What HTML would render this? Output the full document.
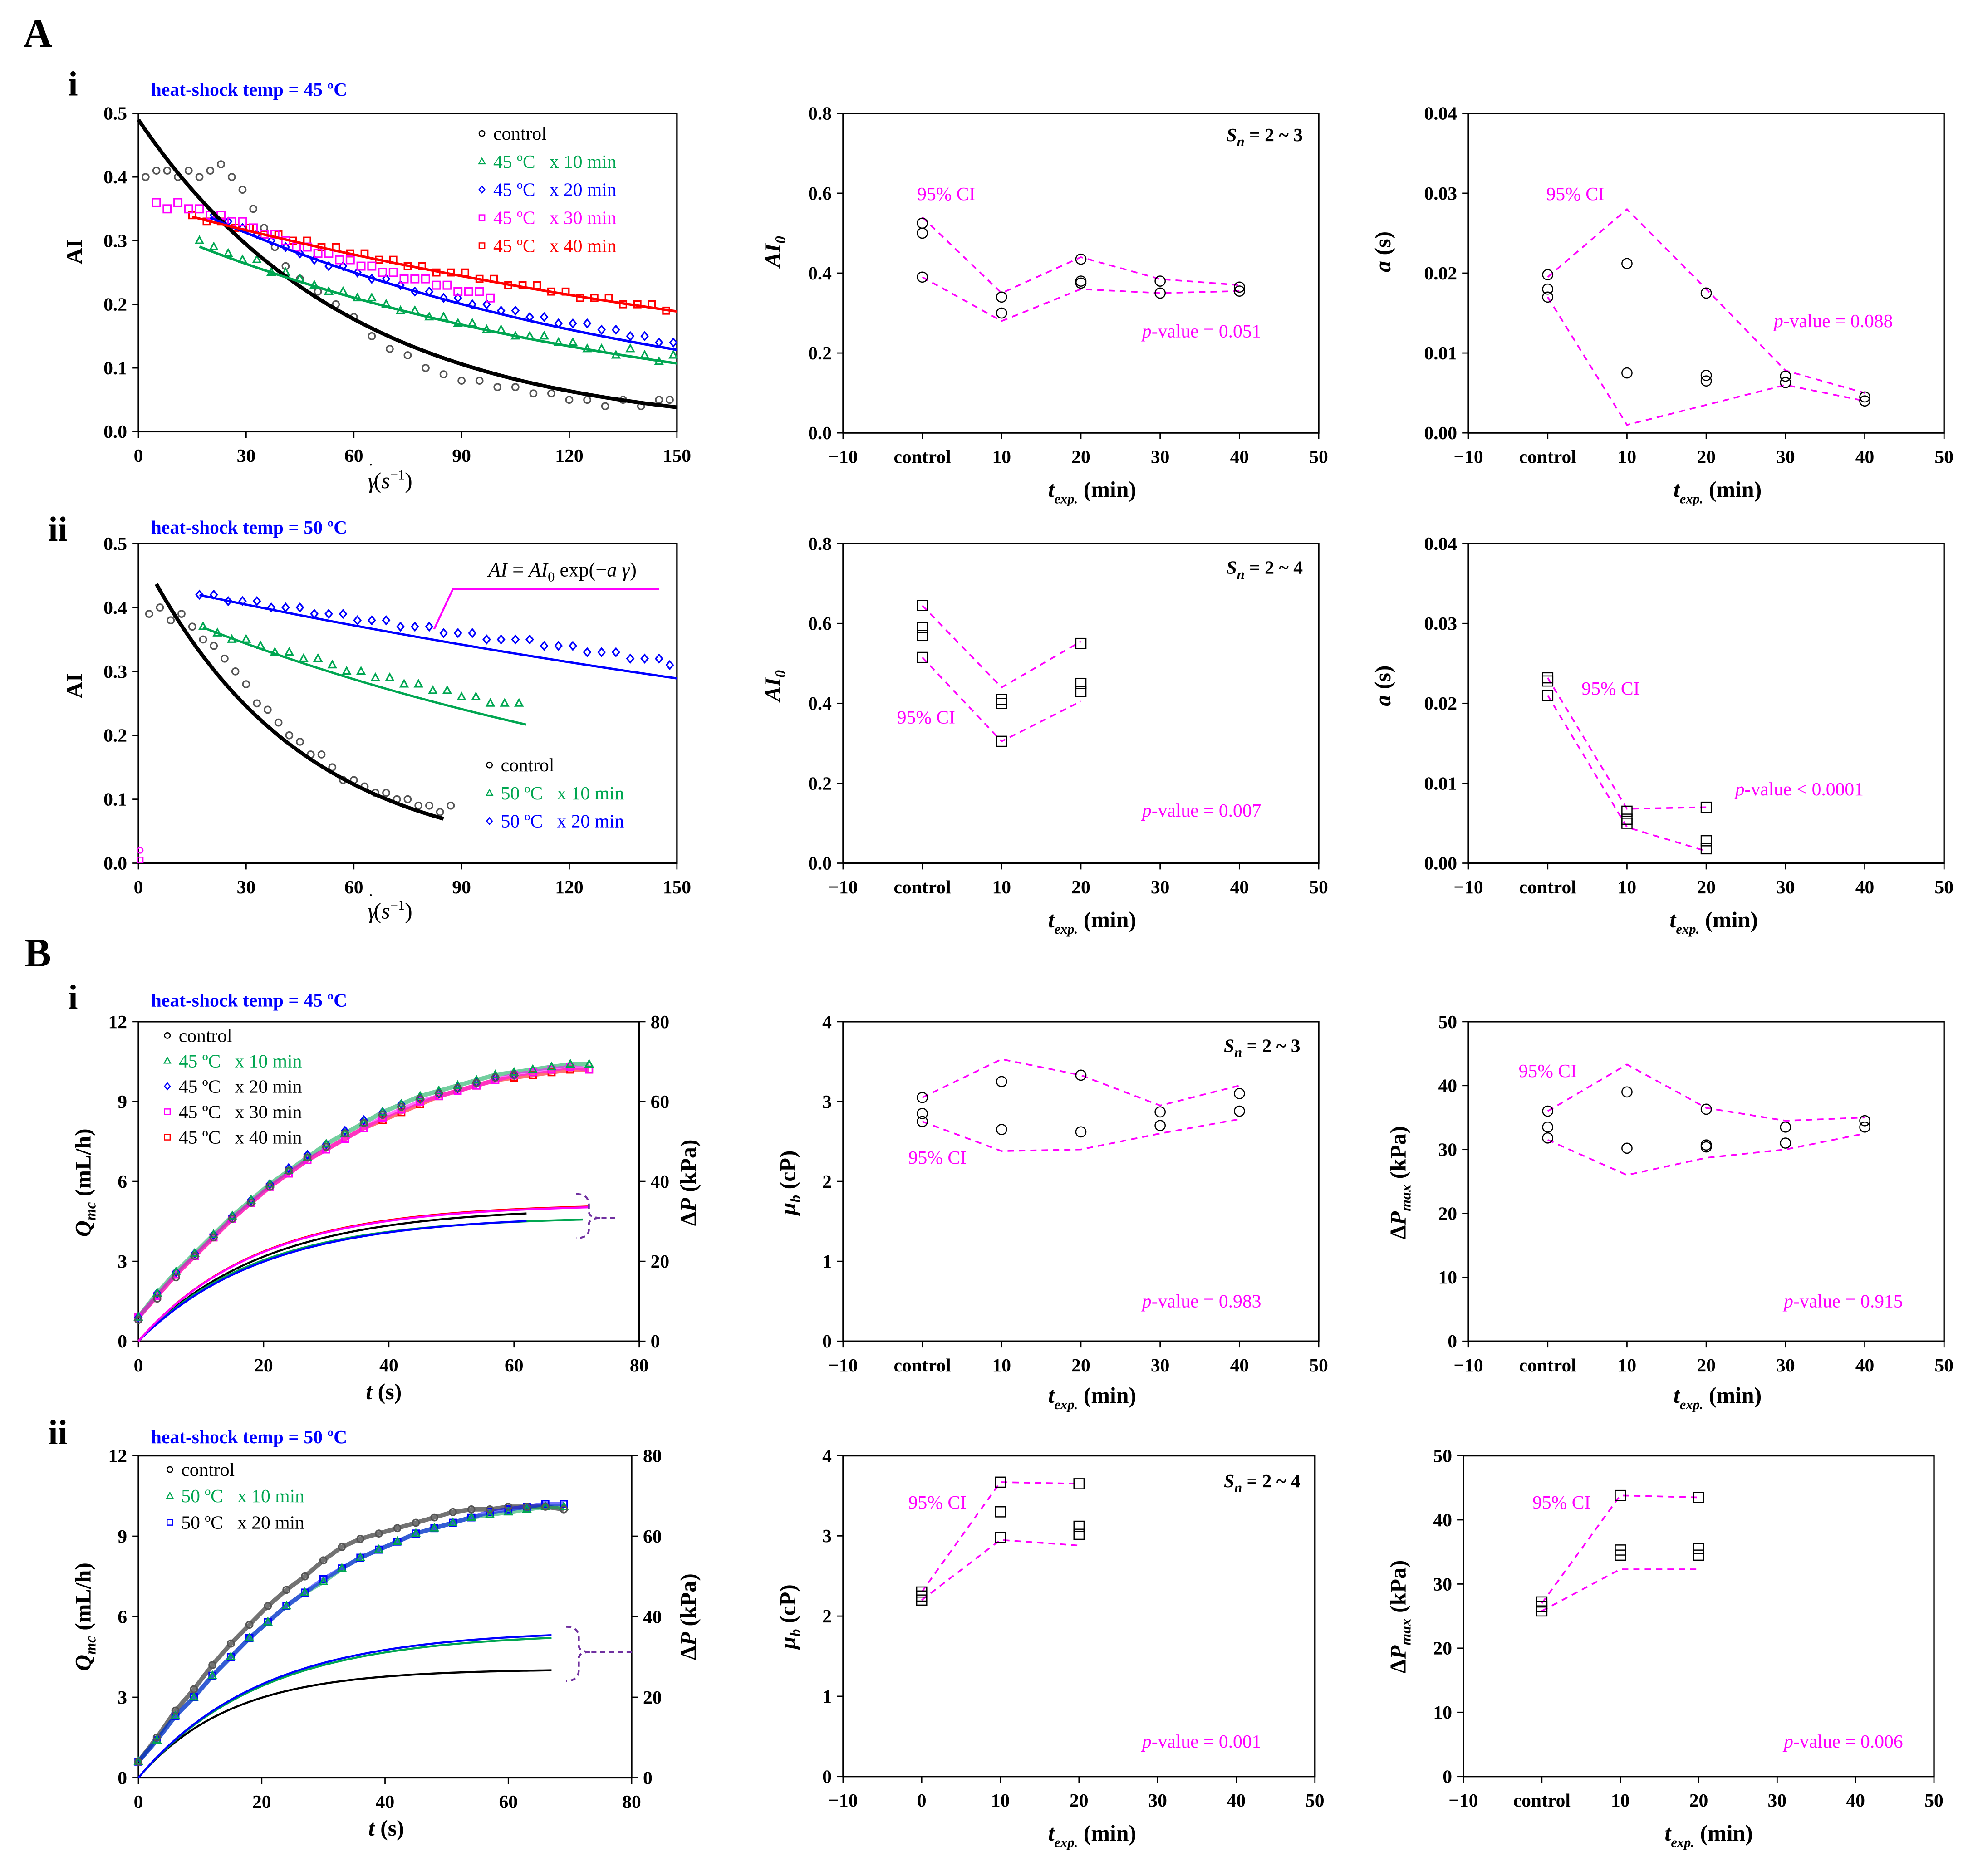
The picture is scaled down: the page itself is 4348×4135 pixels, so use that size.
<!DOCTYPE html>
<html><head><meta charset="utf-8">
<style>
html,body{margin:0;padding:0;background:#fff;}
svg{display:block;}
text{font-family:"Liberation Serif",serif;}
</style></head>
<body>
<svg id="fig" xmlns="http://www.w3.org/2000/svg" width="4348" height="4135" viewBox="0 0 1568 1491"></svg>
<script>
// ---------- DATA ----------
const aiCtrlX=[2,5,8,11,14,17,20,23,26,29,32,35,38,41,45,50,55,60,65,70,75,80,85,90,95,100,105,110,115,120,125,130,135,140,145,148];
const aiCtrlY=[0.40,0.41,0.41,0.40,0.41,0.40,0.41,0.42,0.40,0.38,0.35,0.32,0.29,0.26,0.24,0.22,0.20,0.18,0.15,0.13,0.12,0.10,0.09,0.08,0.08,0.07,0.07,0.06,0.06,0.05,0.05,0.04,0.05,0.04,0.05,0.05];
const ai10X=[17,21,25,29,33,37,41,45,49,53,57,61,65,69,73,77,81,85,89,93,97,101,105,109,113,117,121,125,129,133,137,141,145,149];
const ai10Y=[0.30,0.29,0.28,0.27,0.27,0.25,0.25,0.24,0.23,0.22,0.22,0.21,0.21,0.20,0.19,0.19,0.18,0.18,0.17,0.17,0.16,0.16,0.15,0.15,0.15,0.14,0.14,0.13,0.13,0.12,0.13,0.12,0.11,0.12];
const ai20X=[21,25,29,33,37,41,45,49,53,57,61,65,69,73,77,81,85,89,93,97,101,105,109,113,117,121,125,129,133,137,141,145,149];
const ai20Y=[0.34,0.33,0.32,0.31,0.30,0.29,0.28,0.27,0.26,0.26,0.25,0.24,0.24,0.23,0.22,0.22,0.21,0.21,0.20,0.20,0.19,0.19,0.18,0.18,0.17,0.17,0.17,0.16,0.16,0.15,0.15,0.14,0.14];
const ai30X=[5,8,11,14,17,20,23,26,29,32,35,38,41,44,47,50,53,56,59,62,65,68,71,74,77,80,83,86,89,92,95,98];
const ai30Y=[0.36,0.35,0.36,0.35,0.35,0.34,0.34,0.33,0.33,0.32,0.31,0.31,0.30,0.29,0.29,0.28,0.28,0.27,0.27,0.26,0.26,0.25,0.25,0.24,0.24,0.24,0.23,0.23,0.22,0.22,0.22,0.21];
const ai40X=[15,19,23,27,31,35,39,43,47,51,55,59,63,67,71,75,79,83,87,91,95,99,103,107,111,115,119,123,127,131,135,139,143,147];
const ai40Y=[0.34,0.33,0.33,0.32,0.32,0.31,0.31,0.30,0.30,0.29,0.29,0.28,0.28,0.27,0.27,0.26,0.26,0.25,0.25,0.25,0.24,0.24,0.23,0.23,0.23,0.22,0.22,0.21,0.21,0.21,0.20,0.20,0.20,0.19];
const fitAi=[[0.49,0.017,0,150,'#000'],[0.33,0.0075,17,150,'#00a651'],[0.39,0.0074,20,150,'#0000ff'],[0.36,0.0043,15,150,'#ff0000']];
const aiiCtrlX=[3,6,9,12,15,18,21,24,27,30,33,36,39,42,45,48,51,54,57,60,63,66,69,72,75,78,81,84,87];
const aiiCtrlY=[0.39,0.40,0.38,0.39,0.37,0.35,0.34,0.32,0.30,0.28,0.25,0.24,0.22,0.20,0.19,0.17,0.17,0.15,0.13,0.13,0.12,0.11,0.11,0.10,0.10,0.09,0.09,0.08,0.09];
const aii10X=[18,22,26,30,34,38,42,46,50,54,58,62,66,70,74,78,82,86,90,94,98,102,106];
const aii10Y=[0.37,0.36,0.35,0.35,0.34,0.33,0.33,0.32,0.32,0.31,0.30,0.30,0.29,0.29,0.28,0.28,0.27,0.27,0.26,0.26,0.25,0.25,0.25];
const aii20X=[17,21,25,29,33,37,41,45,49,53,57,61,65,69,73,77,81,85,89,93,97,101,105,109,113,117,121,125,129,133,137,141,145,148];
const aii20Y=[0.42,0.42,0.41,0.41,0.41,0.40,0.40,0.40,0.39,0.39,0.39,0.38,0.38,0.38,0.37,0.37,0.37,0.36,0.36,0.36,0.35,0.35,0.35,0.35,0.34,0.34,0.34,0.33,0.33,0.33,0.32,0.32,0.32,0.31];
const fitAii=[[0.49,0.023,5,85,'#000'],[0.41,0.0059,18,108,'#00a651'],[0.44,0.0028,17,150,'#0000ff']];
const catX=[0,10,20,30,40];
const a1AI0=[[0.39,0.50,0.525],[0.30,0.34],[0.375,0.38,0.435],[0.35,0.38],[0.355,0.365]];
const a1AI0Up=[0.54,0.35,0.44,0.385,0.37], a1AI0Lo=[0.39,0.28,0.36,0.35,0.355];
const a1A=[[0.017,0.018,0.0198],[0.0075,0.0212],[0.0065,0.0072,0.0175],[0.0063,0.0071],[0.004,0.0045]];
const a1AUp=[0.0195,0.028,0.018,0.0078,0.005], a1ALo=[0.017,0.001,0.0035,0.006,0.004];
const a2AI0=[[0.515,0.57,0.59,0.645],[0.305,0.40,0.41],[0.43,0.45,0.55]];
const a2AI0Up=[0.645,0.44,0.555], a2AI0Lo=[0.515,0.305,0.405];
const a2A=[[0.021,0.0228,0.0232],[0.005,0.0055,0.0065],[0.0018,0.0028,0.007]];
const a2AUp=[0.0232,0.0068,0.007], a2ALo=[0.021,0.0045,0.0015];
const b1Mu=[[2.75,2.85,3.05],[2.65,3.25],[2.62,3.33],[2.70,2.87],[2.88,3.10]];
const b1MuUp=[3.05,3.53,3.33,2.95,3.2], b1MuLo=[2.75,2.38,2.4,2.6,2.78];
const b1P=[[31.8,33.5,36],[30.2,39],[30.4,30.7,36.3],[31,33.5],[33.5,34.5]];
const b1PUp=[36,43.3,36.5,34.5,35], b1PLo=[31.5,26,28.7,30,32.5];
const b2Mu=[[2.2,2.25,2.3],[2.98,3.3,3.67],[3.02,3.12,3.65]];
const b2MuUp=[2.3,3.67,3.65], b2MuLo=[2.2,2.95,2.88];
const b2P=[[25.8,26.5,27.2],[34.5,35.3,43.8],[34.5,35.5,43.5]];
const b2PUp=[27,43.8,43.5], b2PLo=[25.8,32.3,32.3];
const bT=[0,3,6,9,12,15,18,21,24,27,30,33,36,39,42,45,48,51,54,57,60,63,66,69,72];
const b1Q10=[0.9,1.8,2.6,3.3,4.0,4.7,5.3,5.9,6.4,6.9,7.4,7.8,8.2,8.6,8.9,9.2,9.4,9.6,9.8,10.0,10.1,10.2,10.3,10.4,10.4];
const b1Q40=[0.9,1.7,2.5,3.2,3.9,4.6,5.2,5.8,6.3,6.8,7.2,7.6,8.0,8.3,8.6,8.9,9.2,9.4,9.6,9.8,9.9,10.0,10.1,10.2,10.2];
const b1Q20=[0.9,1.8,2.6,3.3,4.0,4.7,5.3,5.9,6.5,7.0,7.4,7.9,8.3,8.6,8.9,9.1,9.3,9.5,9.7,9.9,10.0];
const b1QC=[0.8,1.6,2.4,3.2,3.9,4.6,5.2,5.8,6.4,6.9,7.3,7.8,8.2,8.5,8.8,9.1,9.3,9.5,9.7,9.9,10.0];
const b1Qp=[0.9,1.7,2.5,3.2,3.9,4.6,5.2,5.8,6.3,6.8,7.2,7.6,8.0,8.4,8.7,9.0,9.2,9.4,9.6,9.8,10.0,10.1,10.2,10.3,10.2];
const b2QC=[0.6,1.5,2.5,3.3,4.2,5.0,5.7,6.4,7.0,7.5,8.1,8.6,8.9,9.1,9.3,9.5,9.7,9.9,10.0,10.0,10.1,10.1,10.1,10.0];
const b2Q10=[0.6,1.4,2.3,3.0,3.8,4.5,5.2,5.8,6.4,6.9,7.3,7.8,8.2,8.5,8.8,9.1,9.3,9.5,9.7,9.8,9.9,10.0,10.1,10.1];
const b2Q20=[0.6,1.4,2.3,3.0,3.8,4.5,5.2,5.8,6.4,6.9,7.4,7.8,8.2,8.5,8.8,9.1,9.3,9.5,9.7,9.9,10.0,10.1,10.2,10.2];
const b1Pc=[[33.5,20,62,'#000'],[31.2,19,71,'#00a651'],[31.5,20,62,'#0000ff'],[34.5,19,72,'#ff0000'],[34.3,19,72,'#ff00ff']];
const b2Pc=[[27,15,67,'#000'],[36,20,67,'#00a651'],[36.7,20,67,'#0000ff']];

// ---------- HELPERS ----------
const NS='http://www.w3.org/2000/svg';
const svg=document.getElementById('fig');
function mk(tag,attrs,name,parent){
  const e=document.createElementNS(NS,tag);
  for(const k in attrs) e.setAttribute(k,attrs[k]);
  
  
  (parent||svg).appendChild(e); return e;
}
function txt(x,y,s,o,name){
  o=o||{};
  const t=mk('text',{x:x,y:y,'font-size':o.size||15,'font-weight':o.w||'bold','fill':o.fill||'#000','text-anchor':o.anchor||'middle','font-style':o.style||'normal'},name);
  if(o.rot) t.setAttribute('transform','rotate(-90 '+x+' '+y+')');
  t.innerHTML=s; return t;
}
function panel(p,name){
  const sx=v=>p.x0+(v-p.xmin)/(p.xmax-p.xmin)*(p.x1-p.x0);
  const sy=v=>p.y1-(v-p.ymin)/(p.ymax-p.ymin)*(p.y1-p.y0);
  mk('rect',{x:p.x0,y:p.y0,width:p.x1-p.x0,height:p.y1-p.y0,fill:'none',stroke:'#000','stroke-width':1.2},name+'-frame');
  p.xt.forEach((v,i)=>{
    mk('line',{x1:sx(v),x2:sx(v),y1:p.y1,y2:p.y1+5,stroke:'#000'},name+'-x-tick');
    txt(sx(v),p.y1+24,p.xl[i],{},name+'-x-tick-label');
  });
  p.yt.forEach((v,i)=>{
    mk('line',{x1:p.x0-5,x2:p.x0,y1:sy(v),y2:sy(v),stroke:'#000'},name+'-y-tick');
    txt(p.x0-9,sy(v)+5,p.yl[i],{anchor:'end'},name+'-y-tick-label');
  });
  return {sx,sy};
}
function marker(shape,x,y,col,name,r,sw){
  r=r||2.2; sw=sw||0.9;
  if(shape==='c') mk('circle',{cx:x,cy:y,r:r,fill:'none',stroke:col,'stroke-width':sw},name);
  else if(shape==='t') mk('polygon',{points:`${x},${y-r*1.2} ${x-r*1.1},${y+r*0.8} ${x+r*1.1},${y+r*0.8}`,fill:'none',stroke:col,'stroke-width':sw},name);
  else if(shape==='d') mk('polygon',{points:`${x},${y-r*1.2} ${x+r},${y} ${x},${y+r*1.2} ${x-r},${y}`,fill:'none',stroke:col,'stroke-width':sw},name);
  else mk('rect',{x:x-r,y:y-r,width:2*r,height:2*r,fill:'none',stroke:col,'stroke-width':sw},name);
}
function scatter(ax,xs,ys,shape,col,name,r){ xs.forEach((x,i)=>{ if(ys[i]!==undefined) marker(shape,ax.sx(x),ax.sy(ys[i]),col,name,r||2.6,1.2);}); }
function band(ax,xs,ys,col,name){
  let d='';
  ys.forEach((y,i)=>{ d+=(d?'L':'M')+ax.sx(xs[i]).toFixed(2)+','+ax.sy(y).toFixed(2); });
  mk('path',{d:d,fill:'none',stroke:col,'stroke-width':3.5,'stroke-opacity':0.55},name);
}
function expFit(ax,f,name,w){
  let d='';
  for(let x=f[2];x<=f[3]+0.01;x+=1){ d+=(d?'L':'M')+ax.sx(x).toFixed(2)+','+ax.sy(f[0]*Math.exp(-f[1]*x)).toFixed(2); }
  mk('path',{d:d,fill:'none',stroke:f[4],'stroke-width':w||2},name);
}
function pCurve(ax,f,name){
  let d='';
  for(let t=0;t<=f[2]+0.01;t+=0.5){ const P=f[0]*(1-Math.exp(-t/f[1])); d+=(d?'L':'M')+ax.sx(t).toFixed(2)+','+ax.sy(P*12/80).toFixed(2); }
  mk('path',{d:d,fill:'none',stroke:f[3],'stroke-width':1.6},name);
}
function catPanel(ax,pts,up,lo,shape,name){
  const n=pts.length;
  let du='',dl='';
  for(let i=0;i<n;i++){ du+=(i?'L':'M')+ax.sx(catX[i])+','+ax.sy(up[i]); dl+=(i?'L':'M')+ax.sx(catX[i])+','+ax.sy(lo[i]); }
  mk('path',{d:du,fill:'none',stroke:'#ff00ff','stroke-width':1.3,'stroke-dasharray':'5,4'},name+'-ci-upper');
  mk('path',{d:dl,fill:'none',stroke:'#ff00ff','stroke-width':1.3,'stroke-dasharray':'5,4'},name+'-ci-lower');
  pts.forEach((arr,i)=>arr.forEach(v=>marker(shape,ax.sx(catX[i]),ax.sy(v),'#000',name+'-point',4)));
}
const catXt=[-10,0,10,20,30,40,50], catXl=['−10','control','10','20','30','40','50'];
function texp(x,y,name){ txt(x,y,'<tspan font-style="italic">t</tspan><tspan font-size="11" dy="5" font-style="italic">exp.</tspan><tspan dy="-5"> (min)</tspan>',{size:18},name); }
const gdot='<tspan font-style="italic">γ</tspan><tspan dx="-7" dy="-10" font-size="14">˙</tspan><tspan dy="10">(</tspan><tspan font-style="italic">s</tspan><tspan font-size="11" dy="-7">−1</tspan><tspan dy="7">)</tspan>';

// ---------- HEADERS ----------
txt(30,37,'A',{size:32},'panel-a-label');
txt(30,768,'B',{size:32},'panel-b-label');
txt(58,76,'i',{size:28},'row-a-i-label');
txt(46,430,'ii',{size:28},'row-a-ii-label');
txt(58,802,'i',{size:28},'row-b-i-label');
txt(46,1148,'ii',{size:28},'row-b-ii-label');
[[120,76,'45'],[120,424,'50'],[120,800,'45'],[120,1147,'50']].forEach(a=>txt(a[0],a[1],'heat-shock temp = '+a[2]+' ºC',{size:15,fill:'#0000ff',anchor:'start'},'heat-shock-title'));

// ---------- A-i LEFT ----------
let ax=panel({x0:110,x1:538,y0:90,y1:343,xmin:0,xmax:150,ymin:0,ymax:0.5,xt:[0,30,60,90,120,150],xl:['0','30','60','90','120','150'],yt:[0,0.1,0.2,0.3,0.4,0.5],yl:['0.0','0.1','0.2','0.3','0.4','0.5']},'ai-left');
scatter(ax,aiCtrlX,aiCtrlY,'c','#555','control-point');
scatter(ax,ai10X,ai10Y,'t','#00a651','45c-10min-point');
scatter(ax,ai20X,ai20Y,'d','#0000ff','45c-20min-point');
scatter(ax,ai40X,ai40Y,'s','#ff0000','45c-40min-point');
scatter(ax,ai30X,ai30Y,'s','#ff00ff','45c-30min-point',3);
fitAi.forEach(f=>expFit(ax,f,'fit-curve',f[4]==='#000'?3:2));
txt(65,200,'AI',{size:18,rot:true},'y-axis-title');
txt(310,388,gdot,{size:18,w:'normal'},'x-axis-title');
[['control','#000','c'],['45 ºC   x 10 min','#00a651','t'],['45 ºC   x 20 min','#0000ff','d'],['45 ºC   x 30 min','#ff00ff','s'],['45 ºC   x 40 min','#ff0000','s']].forEach((l,i)=>{
  marker(l[2],383,106+i*22.3,l[1],'legend-marker');
  const t=txt(392,111+i*22.3,l[0],{size:15,w:'normal',fill:l[1],anchor:'start'},'legend-entry'); t.style.whiteSpace='pre';
});

// ---------- A-i MID ----------
ax=panel({x0:670,x1:1048,y0:90,y1:344,xmin:-10,xmax:50,ymin:0,ymax:0.8,xt:catXt,xl:catXl,yt:[0,0.2,0.4,0.6,0.8],yl:['0.0','0.2','0.4','0.6','0.8']},'ai-mid');
catPanel(ax,a1AI0,a1AI0Up,a1AI0Lo,'c','ai0-45');
txt(620,200,'AI<tspan font-size="12" dy="4">0</tspan>',{size:18,style:'italic',rot:true},'y-axis-title');
texp(868,395,'x-axis-title');
txt(752,159,'95% CI',{size:15,w:'normal',fill:'#ff00ff'},'ci-label');
txt(955,268,'<tspan font-style="italic">p</tspan>-value = 0.051',{size:15,w:'normal',fill:'#ff00ff'},'p-value');
txt(1005,112,'<tspan font-style="italic">S<tspan font-size="11" dy="4">n</tspan></tspan><tspan dy="-4"> = 2 ~ 3</tspan>',{size:15},'sample-size');

// ---------- A-i RIGHT ----------
ax=panel({x0:1167,x1:1545,y0:90,y1:344,xmin:-10,xmax:50,ymin:0,ymax:0.04,xt:catXt,xl:catXl,yt:[0,0.01,0.02,0.03,0.04],yl:['0.00','0.01','0.02','0.03','0.04']},'a-right');
catPanel(ax,a1A,a1AUp,a1ALo,'c','a-45');
txt(1105,200,'<tspan font-style="italic">a</tspan> (s)',{size:18,rot:true},'y-axis-title');
texp(1365,395,'x-axis-title');
txt(1252,159,'95% CI',{size:15,w:'normal',fill:'#ff00ff'},'ci-label');
txt(1457,260,'<tspan font-style="italic">p</tspan>-value = 0.088',{size:15,w:'normal',fill:'#ff00ff'},'p-value');

// ---------- A-ii LEFT ----------
ax=panel({x0:110,x1:538,y0:432,y1:686,xmin:0,xmax:150,ymin:0,ymax:0.5,xt:[0,30,60,90,120,150],xl:['0','30','60','90','120','150'],yt:[0,0.1,0.2,0.3,0.4,0.5],yl:['0.0','0.1','0.2','0.3','0.4','0.5']},'aii-left');
scatter(ax,aiiCtrlX,aiiCtrlY,'c','#555','control-point');
scatter(ax,aii10X,aii10Y,'t','#00a651','50c-10min-point');
scatter(ax,aii20X,aii20Y,'d','#0000ff','50c-20min-point');
fitAii.forEach(f=>expFit(ax,f,'fit-curve',f[4]==='#000'?3:1.8));
marker('c',ax.sx(0.5),ax.sy(0.02),'#ff00ff','origin-point'); marker('s',ax.sx(0.5),ax.sy(0.005),'#ff00ff','origin-point');
mk('polyline',{points:'345,500 360,468 524,468',fill:'none',stroke:'#ff00ff','stroke-width':1.5},'equation-pointer');
txt(447,458,'<tspan font-style="italic">AI</tspan> = <tspan font-style="italic">AI</tspan><tspan font-size="11" dy="4">0</tspan><tspan dy="-4"> exp(−</tspan><tspan font-style="italic">a γ</tspan>)',{size:16,w:'normal'},'equation');
txt(65,545,'AI',{size:18,rot:true},'y-axis-title');
txt(310,730,gdot,{size:18,w:'normal'},'x-axis-title');
[['control','#000','c'],['50 ºC   x 10 min','#00a651','t'],['50 ºC   x 20 min','#0000ff','d']].forEach((l,i)=>{
  marker(l[2],389,608+i*22.3,l[1],'legend-marker');
  const t=txt(398,613+i*22.3,l[0],{size:15,w:'normal',fill:l[1],anchor:'start'},'legend-entry'); t.style.whiteSpace='pre';
});

// ---------- A-ii MID ----------
ax=panel({x0:670,x1:1048,y0:432,y1:686,xmin:-10,xmax:50,ymin:0,ymax:0.8,xt:catXt,xl:catXl,yt:[0,0.2,0.4,0.6,0.8],yl:['0.0','0.2','0.4','0.6','0.8']},'aii-mid');
catPanel(ax,a2AI0,a2AI0Up,a2AI0Lo,'s','ai0-50');
txt(620,545,'AI<tspan font-size="12" dy="4">0</tspan>',{size:18,style:'italic',rot:true},'y-axis-title');
texp(868,737,'x-axis-title');
txt(736,575,'95% CI',{size:15,w:'normal',fill:'#ff00ff'},'ci-label');
txt(955,649,'<tspan font-style="italic">p</tspan>-value = 0.007',{size:15,w:'normal',fill:'#ff00ff'},'p-value');
txt(1005,456,'<tspan font-style="italic">S<tspan font-size="11" dy="4">n</tspan></tspan><tspan dy="-4"> = 2 ~ 4</tspan>',{size:15},'sample-size');

// ---------- A-ii RIGHT ----------
ax=panel({x0:1167,x1:1545,y0:432,y1:686,xmin:-10,xmax:50,ymin:0,ymax:0.04,xt:catXt,xl:catXl,yt:[0,0.01,0.02,0.03,0.04],yl:['0.00','0.01','0.02','0.03','0.04']},'aii-right');
catPanel(ax,a2A,a2AUp,a2ALo,'s','a-50');
txt(1105,545,'<tspan font-style="italic">a</tspan> (s)',{size:18,rot:true},'y-axis-title');
texp(1362,737,'x-axis-title');
txt(1280,552,'95% CI',{size:15,w:'normal',fill:'#ff00ff'},'ci-label');
txt(1430,632,'<tspan font-style="italic">p</tspan>-value &lt; 0.0001',{size:15,w:'normal',fill:'#ff00ff'},'p-value');

// ---------- B LEFT panels ----------
function bLeft(y0,y1,x1,name){
  const a=panel({x0:110,x1:x1,y0:y0,y1:y1,xmin:0,xmax:80,ymin:0,ymax:12,xt:[0,20,40,60,80],xl:['0','20','40','60','80'],yt:[0,3,6,9,12],yl:['0','3','6','9','12']},name);
  [0,20,40,60,80].forEach(v=>{
    const y=a.sy(v*12/80);
    mk('line',{x1:x1,x2:x1+5,y1:y,y2:y,stroke:'#000'},name+'-y2-tick');
    txt(x1+9,y+5,String(v),{anchor:'start'},name+'-y2-tick-label');
  });
  return a;
}
ax=bLeft(812,1066,508,'bi-left');
band(ax,bT,b1Q40,'#ff0000','45c-40min-band');
band(ax,bT,b1Q10,'#00a651','45c-10min-band');
band(ax,bT,b1Qp,'#ff00ff','45c-30min-band');
scatter(ax,bT,b1Q40,'s','#ff0000','45c-40min-point');
scatter(ax,bT,b1Qp,'s','#ff00ff','45c-30min-point');
scatter(ax,bT,b1Q20,'d','#0000ff','45c-20min-point');
scatter(ax,bT,b1Q10,'t','#00a651','45c-10min-point');
scatter(ax,bT,b1QC,'c','#555','control-point');
b1Pc.forEach(f=>pCurve(ax,f,'pressure-curve'));
mk('path',{d:'M458,949 Q468,949 468,958 L468,963 Q468,968 478,968 Q468,968 468,973 L468,977 Q468,984 458,984',fill:'none',stroke:'#7030a0','stroke-width':1.5,'stroke-dasharray':'4,3'},'pressure-brace');
mk('line',{x1:478,x2:492,y1:968,y2:968,stroke:'#7030a0','stroke-width':1.5,'stroke-dasharray':'4,3'},'pressure-brace-pointer');
txt(72,940,'<tspan font-style="italic">Q</tspan><tspan font-size="12" dy="4" font-style="italic">mc</tspan><tspan dy="-4"> (mL/h)</tspan>',{size:18,rot:true},'y-axis-title');
txt(553,940,'Δ<tspan font-style="italic">P</tspan> (kPa)',{size:18,rot:true},'y2-axis-title');
txt(305,1112,'<tspan font-style="italic">t</tspan> (s)',{size:18},'x-axis-title');
[['control','#000','c'],['45 ºC   x 10 min','#00a651','t'],['45 ºC   x 20 min','#000','d','#0000ff'],['45 ºC   x 30 min','#000','s','#ff00ff'],['45 ºC   x 40 min','#000','s','#ff0000']].forEach((l,i)=>{
  marker(l[2],133,823+i*20.2,l[3]||l[1],'legend-marker');
  const t=txt(142,828+i*20.2,l[0],{size:15,w:'normal',fill:l[1],anchor:'start'},'legend-entry'); t.style.whiteSpace='pre';
});

ax=bLeft(1157,1413,502,'bii-left');
band(ax,bT,b2QC,'#000','control-band');
band(ax,bT,b2Q10,'#00a651','50c-10min-band');
band(ax,bT,b2Q20,'#0000ff','50c-20min-band');
scatter(ax,bT,b2Q20,'s','#0000ff','50c-20min-point');
scatter(ax,bT,b2Q10,'t','#00a651','50c-10min-point');
scatter(ax,bT,b2QC,'c','#555','control-point');
b2Pc.forEach(f=>pCurve(ax,f,'pressure-curve'));
mk('path',{d:'M450,1293 Q460,1293 460,1302 L460,1308 Q460,1313 470,1313 Q460,1313 460,1318 L460,1327 Q460,1336 450,1336',fill:'none',stroke:'#7030a0','stroke-width':1.5,'stroke-dasharray':'4,3'},'pressure-brace');
mk('line',{x1:470,x2:502,y1:1313,y2:1313,stroke:'#7030a0','stroke-width':1.5,'stroke-dasharray':'4,3'},'pressure-brace-pointer');
txt(72,1285,'<tspan font-style="italic">Q</tspan><tspan font-size="12" dy="4" font-style="italic">mc</tspan><tspan dy="-4"> (mL/h)</tspan>',{size:18,rot:true},'y-axis-title');
txt(553,1285,'Δ<tspan font-style="italic">P</tspan> (kPa)',{size:18,rot:true},'y2-axis-title');
txt(307,1459,'<tspan font-style="italic">t</tspan> (s)',{size:18},'x-axis-title');
[['control','#000','c'],['50 ºC   x 10 min','#00a651','t'],['50 ºC   x 20 min','#000','s','#0000ff']].forEach((l,i)=>{
  marker(l[2],135,1168+i*21,l[3]||l[1],'legend-marker');
  const t=txt(144,1173+i*21,l[0],{size:15,w:'normal',fill:l[1],anchor:'start'},'legend-entry'); t.style.whiteSpace='pre';
});

// ---------- B-i MID/RIGHT ----------
ax=panel({x0:670,x1:1048,y0:812,y1:1066,xmin:-10,xmax:50,ymin:0,ymax:4,xt:catXt,xl:catXl,yt:[0,1,2,3,4],yl:['0','1','2','3','4']},'bi-mid');
catPanel(ax,b1Mu,b1MuUp,b1MuLo,'c','mu-45');
txt(632,940,'<tspan font-style="italic">μ</tspan><tspan font-size="12" dy="4" font-style="italic">b</tspan><tspan dy="-4"> (cP)</tspan>',{size:18,rot:true},'y-axis-title');
texp(868,1115,'x-axis-title');
txt(745,925,'95% CI',{size:15,w:'normal',fill:'#ff00ff'},'ci-label');
txt(955,1039,'<tspan font-style="italic">p</tspan>-value = 0.983',{size:15,w:'normal',fill:'#ff00ff'},'p-value');
txt(1003,836,'<tspan font-style="italic">S<tspan font-size="11" dy="4">n</tspan></tspan><tspan dy="-4"> = 2 ~ 3</tspan>',{size:15},'sample-size');

ax=panel({x0:1167,x1:1545,y0:812,y1:1066,xmin:-10,xmax:50,ymin:0,ymax:50,xt:catXt,xl:catXl,yt:[0,10,20,30,40,50],yl:['0','10','20','30','40','50']},'bi-right');
catPanel(ax,b1P,b1PUp,b1PLo,'c','dpmax-45');
txt(1117,940,'Δ<tspan font-style="italic">P</tspan><tspan font-size="12" dy="4" font-style="italic">max</tspan><tspan dy="-4"> (kPa)</tspan>',{size:18,rot:true},'y-axis-title');
texp(1365,1115,'x-axis-title');
txt(1230,856,'95% CI',{size:15,w:'normal',fill:'#ff00ff'},'ci-label');
txt(1465,1039,'<tspan font-style="italic">p</tspan>-value = 0.915',{size:15,w:'normal',fill:'#ff00ff'},'p-value');

// ---------- B-ii MID/RIGHT ----------
ax=panel({x0:670,x1:1045,y0:1157,y1:1412,xmin:-10,xmax:50,ymin:0,ymax:4,xt:catXt,xl:['−10','0','10','20','30','40','50'],yt:[0,1,2,3,4],yl:['0','1','2','3','4']},'bii-mid');
catPanel(ax,b2Mu,b2MuUp,b2MuLo,'s','mu-50');
txt(632,1285,'<tspan font-style="italic">μ</tspan><tspan font-size="12" dy="4" font-style="italic">b</tspan><tspan dy="-4"> (cP)</tspan>',{size:18,rot:true},'y-axis-title');
texp(868,1463,'x-axis-title');
txt(745,1199,'95% CI',{size:15,w:'normal',fill:'#ff00ff'},'ci-label');
txt(955,1389,'<tspan font-style="italic">p</tspan>-value = 0.001',{size:15,w:'normal',fill:'#ff00ff'},'p-value');
txt(1003,1182,'<tspan font-style="italic">S<tspan font-size="11" dy="4">n</tspan></tspan><tspan dy="-4"> = 2 ~ 4</tspan>',{size:15},'sample-size');

ax=panel({x0:1163,x1:1537,y0:1157,y1:1412,xmin:-10,xmax:50,ymin:0,ymax:50,xt:catXt,xl:catXl,yt:[0,10,20,30,40,50],yl:['0','10','20','30','40','50']},'bii-right');
catPanel(ax,b2P,b2PUp,b2PLo,'s','dpmax-50');
txt(1117,1285,'Δ<tspan font-style="italic">P</tspan><tspan font-size="12" dy="4" font-style="italic">max</tspan><tspan dy="-4"> (kPa)</tspan>',{size:18,rot:true},'y-axis-title');
texp(1358,1463,'x-axis-title');
txt(1241,1199,'95% CI',{size:15,w:'normal',fill:'#ff00ff'},'ci-label');
txt(1465,1389,'<tspan font-style="italic">p</tspan>-value = 0.006',{size:15,w:'normal',fill:'#ff00ff'},'p-value');
</script>
</body></html>
